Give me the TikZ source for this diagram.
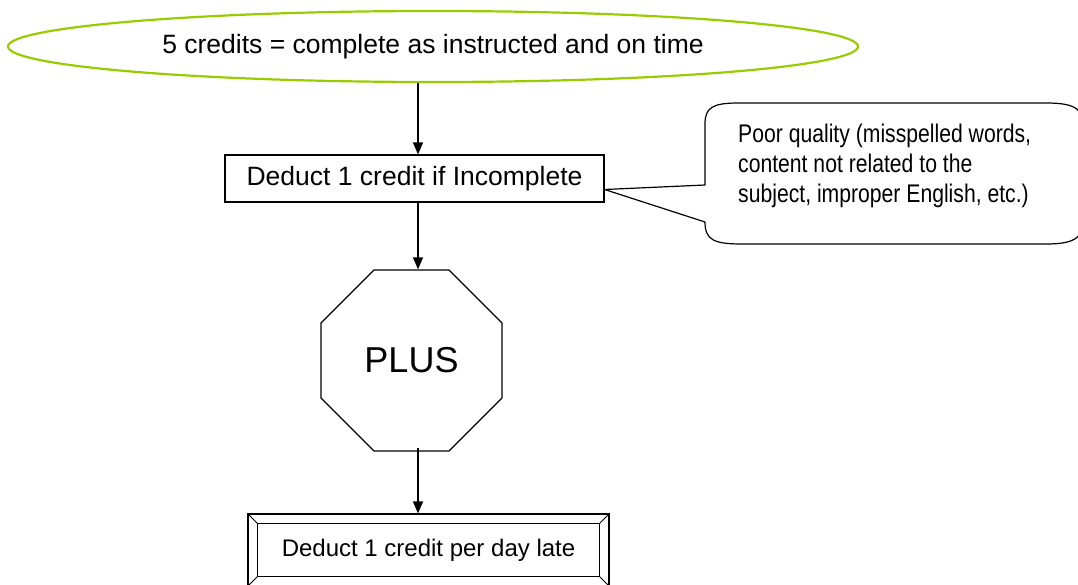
\documentclass[tikz,border=0pt]{standalone}
\usepackage{fontspec}
\setmainfont{Liberation Sans}
\newfontfamily\narrowfont[FakeStretch=0.83]{Liberation Sans}
\usetikzlibrary{shapes.geometric, arrows.meta, positioning, calc}

\definecolor{limegreen}{HTML}{99CC00}

\tikzset{
  flowline/.style = {line width=1.4pt, -{Triangle[length=12pt, width=10pt]}},
  flowbox/.style = {draw, line width=1.2pt, inner sep=0pt},
}

\begin{document}
\begin{tikzpicture}[x=1pt, y=-1pt]
\clip (0,0) rectangle (1078,584);

\node (goal) [ellipse, draw=limegreen, line width=2.2pt, minimum width=850, minimum height=71,
  font=\fontsize{26.5}{30}\selectfont] at (433,46.5) {5 credits = complete as instructed and on time};
\node (incomplete) [flowbox, minimum width=379, minimum height=47,
  font=\fontsize{26.5}{30}\selectfont] at (414.5,178.5) {Deduct 1 credit if Incomplete};
\node (plus) [regular polygon, regular polygon sides=8, flowbox, minimum size=196,
  font=\fontsize{36}{40}\selectfont] at (411.5,360.5) {PLUS};
\node (late) [flowbox, minimum width=361, minimum height=72,
  font=\fontsize{24}{28}\selectfont] at (428.5,550) {Deduct 1 credit per day late};
\coordinate (axis) at (418,0);

% bevel of the last box
\coordinate (inw) at ($ (late.north west) + (10,10) $);
\coordinate (ine) at ($ (late.north east) + (-10,10) $);
\coordinate (isw) at ($ (late.south west) + (10,-10) $);
\coordinate (ise) at ($ (late.south east) + (-10,-10) $);
\draw [line width=1.2pt] (inw) rectangle (ise);
\draw [line width=1pt] (late.north west) -- (inw) (late.north east) -- (ine)
  (late.south west) -- (isw) (late.south east) -- (ise);

\draw [flowline] (goal.south -| axis) -- (incomplete.north -| axis);
\draw [flowline] (incomplete.south -| axis) -- (plus.north -| axis);
\draw [flowline] ($ (plus.south -| axis) + (0,-4) $) -- (late.north -| axis);

% callout
\coordinate (tip) at ($ (incomplete.east) + (0,11) $);
\draw [line width=1.2pt, line join=round] (tip) -- (705,222)
  .. controls (705,240) and (714,244) .. (742,244) -- (1046,244)
  .. controls (1078,244) and (1084,236) .. (1084,215) -- (1084,132)
  .. controls (1084,110) and (1078,103) .. (1046,103) -- (738,103)
  .. controls (712,103) and (705,108) .. (705,124) -- (705,185) -- cycle;
\node (quality) [anchor=west, align=left, inner sep=0pt,
  font=\narrowfont\fontsize{25.5}{30}\selectfont] at (738,166)
  {Poor quality (misspelled words,\\content not related to the\\subject, improper English, etc.)};

\end{tikzpicture}
\end{document}
